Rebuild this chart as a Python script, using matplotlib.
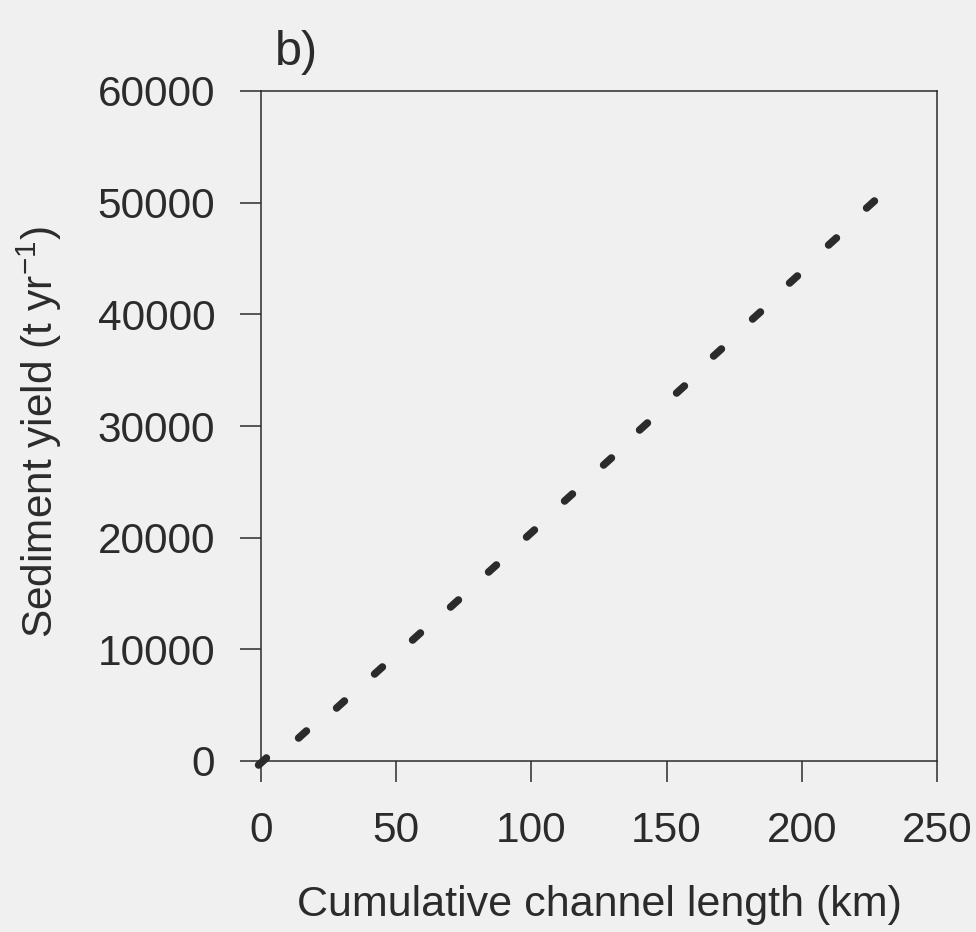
import numpy as np
import matplotlib
matplotlib.use("Agg")
import matplotlib.pyplot as plt
from matplotlib.path import Path

# Data
channel_length_km = [0.4, 15.2, 29.3, 43.3, 57.5, 71.3, 85.6, 99.4, 113.6,
                     127.8, 141.4, 155.0, 168.8, 183.1, 196.7, 211.1, 225.4]
sediment_yield = [0, 2460, 5130, 8130, 11180, 14130, 17250, 20430, 23630,
                  26880, 30040, 33340, 36630, 39910, 43120, 46530, 49910]
x_ticks = [0, 50, 100, 150, 200, 250]
y_ticks = [0, 10000, 20000, 30000, 40000, 50000, 60000]

plt.rcParams['font.family'] = ['Liberation Sans', 'DejaVu Sans']
plt.rcParams['mathtext.fontset'] = 'custom'
plt.rcParams['mathtext.rm'] = 'Liberation Sans'
plt.rcParams['mathtext.it'] = 'Liberation Sans'
ink = '#2b2b2b'
bg = '#f0f0f0'

fig = plt.figure(figsize=(9.76, 9.32), dpi=100, facecolor=bg)
ax = fig.add_axes([261/976, 1-761/932, (937-261)/976, (761-91)/932])
ax.set_facecolor(bg)

# rounded dash marker (stadium shape, rotated)
r = 0.42
half = 1.0 - r
a1 = np.linspace(-np.pi/2, np.pi/2, 20)
a2 = np.linspace(np.pi/2, 3*np.pi/2, 20)
ex = np.concatenate([half + r*np.cos(a1), -half + r*np.cos(a2)])
ey = np.concatenate([r*np.sin(a1), r*np.sin(a2)])
ang = np.deg2rad(42)
vx = ex*np.cos(ang) - ey*np.sin(ang)
vy = ex*np.sin(ang) + ey*np.cos(ang)
dash = Path(np.column_stack([vx, vy]))

ax.plot(channel_length_km, sediment_yield, linestyle='none', marker=dash,
        markersize=11, color=ink, markeredgewidth=0, clip_on=False)

ax.set_xlim(0, 250)
ax.set_ylim(0, 60000)
ax.set_xticks(x_ticks)
ax.set_yticks(y_ticks)
ax.set_xticklabels([str(v) for v in x_ticks])
ax.set_yticklabels([str(v) for v in y_ticks])
for s in ax.spines.values():
    s.set_linewidth(1.1)
    s.set_color(ink)
ax.tick_params(axis='both', direction='out', length=15, width=1.1, color=ink,
               labelsize=30.5, labelcolor=ink)
ax.tick_params(axis='x', pad=21)
ax.tick_params(axis='y', pad=18)

ax.set_xlabel('Cumulative channel length (km)', fontsize=31, color=ink)
ax.set_ylabel('Sediment yield (t yr$^{-1}$)', fontsize=30.5, color=ink)
ax.xaxis.set_label_coords(0.5, -0.185)
ax.yaxis.set_label_coords(-0.292, 0.49)
fig.text(275/976, 1-65/932, 'b)', fontsize=35, color=ink, ha='left', va='baseline')

fig.savefig('out.png', dpi=100, facecolor=bg)
